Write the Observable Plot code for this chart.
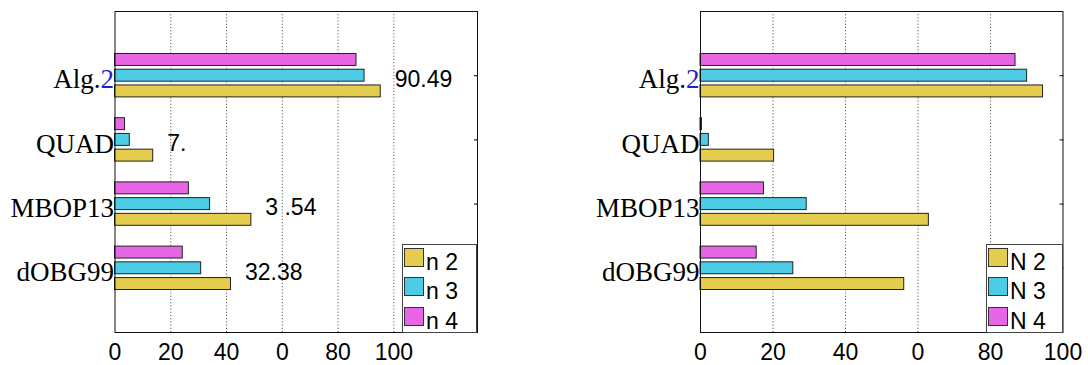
<!DOCTYPE html>
<html>
<head>
<meta charset="utf-8">
<script src="https://cdn.jsdelivr.net/npm/d3@7"></script>
<script src="https://cdn.jsdelivr.net/npm/@observablehq/plot@0.6"></script>
<style>
  body { margin: 0; background: #fff; }
  #wrap { position: relative; width: 1088px; height: 365px; overflow: hidden; }
  .panel { position: absolute; top: 0; }
  .legend { position: absolute; box-sizing: border-box; border: 1px solid #444; background: #fff; }
  .legend .sw { position: absolute; box-sizing: border-box; border: 1px solid #333; width: 20px; height: 19px; left: 1px; }
  .legend .lb { position: absolute; left: 23px; font: 23px "Liberation Sans", Arial, sans-serif; line-height: 1; color: #000; white-space: nowrap; }
</style>
</head>
<body>
<div id="wrap"></div>
<script>
// ---- data ----
const categories = ["dOBG99", "MBOP13", "QUAD", "Alg.2"]; // bottom to top
const leftSeries = ["n 2", "n 3", "n 4"];
const rightSeries = ["N 2", "N 3", "N 4"];
const seriesColors = ["#e4cc4c", "#4ccde5", "#e666e6"];

const leftN2 = [41.6, 48.9, 13.7, 95.3];
const leftN3 = [30.9, 34.1, 5.3, 89.5];
const leftN4 = [24.3, 26.5, 3.6, 86.6];

const rightN2 = [56.2, 63.0, 20.3, 94.5];
const rightN3 = [25.6, 29.3, 2.3, 90.1];
const rightN4 = [15.5, 17.5, 0.4, 86.9];

const leftAnnotations = ["32.38", "3 .54", "7.", "90.49"];

const xTickValues = [0, 20, 40, 60, 80, 100];
const xTickLabels = ["0", "20", "40", "0", "80", "100"];

// ---- helpers ----
const barOffsets = [-0.245, 0, 0.245];
const barHalf = 0.093;

function toRows(series, arrays) {
  const rows = [];
  arrays.forEach((arr, s) => {
    arr.forEach((v, i) => {
      rows.push({series: series[s], s, cat: categories[i], pos: i + 1, value: v});
    });
  });
  return rows;
}

function makePanel({series, arrays, xMax, marginLeft, marginRight, annotations}) {
  const rows = toRows(series, arrays);
  const catRows = categories.map((c, i) => ({cat: c, pos: i + 1}));
  const marks = [
    Plot.ruleX(xTickValues.filter(d => d > 0 && d < xMax), {stroke: "#000", strokeOpacity: 0.75, strokeDasharray: "1,2.2"}),
    Plot.rect(rows, {
      x1: 0, x2: "value",
      y1: d => d.pos + barOffsets[d.s] - barHalf,
      y2: d => d.pos + barOffsets[d.s] + barHalf,
      fill: "series", stroke: "#222", strokeWidth: 1
    }),
    Plot.text(catRows, {x: 0, y: "pos", text: "cat", textAnchor: "end", dx: -1, dy: 4,
      fontFamily: "'Liberation Serif', 'DejaVu Serif', serif", fontSize: 27, fill: "#000"}),
    Plot.axisX(xTickValues, {tickFormat: d => xTickLabels[xTickValues.indexOf(d)], tickSize: 0, tickPadding: 11,
      label: null, fontSize: 23, fontFamily: "'Liberation Sans', Arial, sans-serif", fill: "#000"}),
    Plot.axisY([1, 2, 3, 4], {anchor: "right", tickSize: 4, dx: -4, tickFormat: () => "", label: null, stroke: "#000"}),
    Plot.frame({stroke: "#111"})
  ];
  if (annotations) {
    const n2 = arrays[0];
    const annRows = categories.map((c, i) => ({pos: i + 1, x: n2[i] + 5, label: annotations[i]}));
    marks.push(Plot.text(annRows, {x: "x", y: "pos", text: "label", textAnchor: "start", dy: 4,
      fontSize: 23, fontFamily: "'Liberation Sans', Arial, sans-serif", fill: "#000"}));
  }
  const svg = Plot.plot({
    width: 544, height: 365,
    marginLeft, marginRight, marginTop: 11, marginBottom: 33,
    x: {domain: [0, xMax], nice: false, label: null},
    y: {domain: [0, 5], label: null},
    color: {domain: series, range: seriesColors},
    style: {fontFamily: "'Liberation Sans', Arial, sans-serif", fontSize: "23px", background: "transparent", overflow: "visible", color: "#000"},
    marks
  });
  // colour the "2" of "Alg.2" blue
  d3.select(svg).selectAll("text").filter(function() { return this.textContent === "Alg.2"; })
    .each(function() {
      const t = d3.select(this);
      t.text(null);
      t.append("tspan").text("Alg.");
      t.append("tspan").attr("fill", "#2222cc").text("2");
    });
  return svg;
}

function makeLegend(series, left, width) {
  const lg = document.createElement("div");
  lg.className = "legend";
  Object.assign(lg.style, {left: left + "px", top: "244px", width: width + "px", height: "89px"});
  series.forEach((s, i) => {
    const sw = document.createElement("div");
    sw.className = "sw";
    sw.style.top = (2.5 + i * 29.8) + "px";
    sw.style.background = seriesColors[i];
    lg.appendChild(sw);
    const lb = document.createElement("div");
    lb.className = "lb";
    lb.style.top = (5.5 + i * 29.8) + "px";
    lb.textContent = s;
    lg.appendChild(lb);
  });
  return lg;
}

const wrap = document.getElementById("wrap");

const p1 = document.createElement("div");
p1.className = "panel"; p1.style.left = "0px";
p1.appendChild(makePanel({series: leftSeries, arrays: [leftN2, leftN3, leftN4], xMax: 130, marginLeft: 114.5, marginRight: 67, annotations: leftAnnotations}));
wrap.appendChild(p1);

const p2 = document.createElement("div");
p2.className = "panel"; p2.style.left = "544px";
p2.appendChild(makePanel({series: rightSeries, arrays: [rightN2, rightN3, rightN4], xMax: 100, marginLeft: 156, marginRight: 25.5}));
wrap.appendChild(p2);

wrap.appendChild(makeLegend(leftSeries, 402, 75));
wrap.appendChild(makeLegend(rightSeries, 986, 77));
</script>
</body>
</html>
